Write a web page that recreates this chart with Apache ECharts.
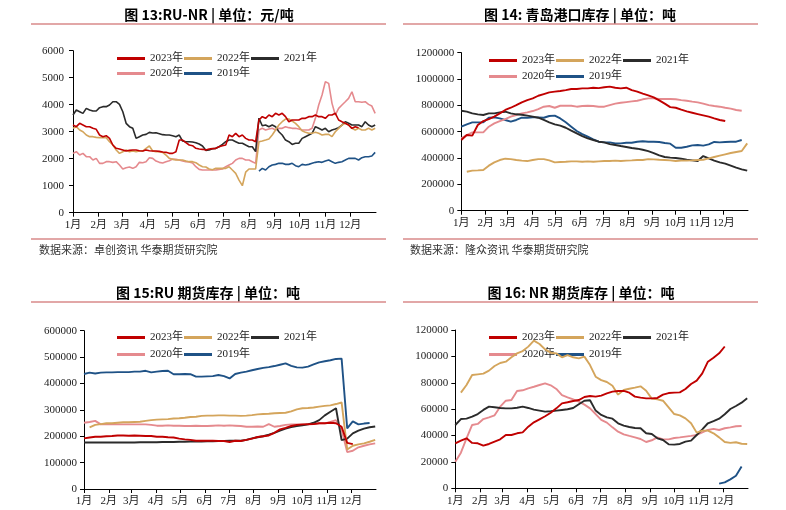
<!DOCTYPE html>
<html><head><meta charset="utf-8">
<script src="https://cdn.jsdelivr.net/npm/echarts@6/dist/echarts.min.js"></script>
<style>html,body{margin:0;padding:0;background:#fff}#c{width:786px;height:510px}</style>
</head><body><div id="c"></div>
<script>
// ---------- labels ----------
const years = ['2023年', '2022年', '2021年', '2020年', '2019年'];
const colors = ['#c00000', '#d4a55c', '#2b2b2b', '#e58a8e', '#1f5286'];
const monthLabels = ['1月','2月','3月','4月','5月','6月','7月','8月','9月','10月','11月','12月'];
const titles = ['图 13:RU-NR | 单位：元/吨', '图 14: 青岛港口库存 | 单位：吨', '图 15:RU 期货库存 | 单位：吨', '图 16: NR 期货库存 | 单位：吨'];
const sources = ['数据来源：卓创资讯 华泰期货研究院', '数据来源：隆众资讯 华泰期货研究院'];

// ---------- Panel 1: RU-NR spread (元/吨), one point every 4 days ----------
const ruNrStepDays = 4;
const ruNr2023 = [
 3248,3186,3310,3248,3186,3186,3125,3088,2877,2816,
 2853,2754,2507,2384,2359,2322,2285,2310,2322,2322,
 2297,2285,2322,2297,2285,2285,2272,2248,2235,2198,
 2198,2260,2692,2692,2594,2507,2482,2384,2360,2347,
 2322,2360,2372,2384,2445,2482,2507,2877,2816,2940,
 2816,2877,2754,2692,2692,2630,3433,3557,3495,3619,
 3557,3680,3619,3680,3557,3370,3433,3433,3433,3495,
 3495,3557,3557,3619,3557,3557,3495,3619,3619,3680,
 3433,3370,3310,3248,3125,3186,3150,null,null,null,
 null,null];
const ruNr2022 = [
 3125,3186,3063,3000,2877,2816,2816,2790,2779,2779,
 2779,2630,2507,2322,2198,2260,2322,2260,2285,2260,
 2285,2285,2384,2470,2285,2260,2260,2235,2137,2013,
 1976,1951,1951,1951,1914,1890,1890,1852,1766,1704,
 1692,1618,1593,1642,1642,1642,1642,1704,1580,1457,
 1210,1000,1500,1618,1618,1618,2630,2655,2692,2730,
 2877,3063,3248,3370,3470,3470,3396,3310,3186,3038,
 2976,2940,2940,2976,2940,2877,2900,2900,2816,3000,
 3125,3248,3310,3248,3125,3063,3125,3063,3063,3125,
 3063,3125];
const ruNr2021 = [
 3619,3804,3742,3680,3865,3804,3767,3767,3890,3927,
 3927,3990,4110,4110,4010,3740,3310,3186,3125,2754,
 2816,2877,2900,2976,2950,2960,2925,2890,2877,2877,
 2850,2816,2877,2655,2630,2630,2618,2594,2545,2470,
 2310,2322,2370,2384,2445,2530,2630,2690,2690,2630,
 2570,2570,2507,2445,2445,2260,3500,3220,3250,3186,
 3250,3186,3000,2877,2690,2630,2530,2570,2570,2754,
 2816,2877,2940,3186,3125,3063,3125,3000,3063,3100,
 3150,3248,3370,3310,3248,3248,3248,3186,3370,3248,
 3186,3248];
const ruNr2020 = [
 2198,2260,2137,2198,2075,2075,1951,2013,1828,1828,
 1890,1890,1865,1890,1766,1618,1667,1692,1642,1704,
 1865,1852,1890,2038,2013,1914,1865,1840,1890,1927,
 1988,1976,1951,1914,1890,1877,1840,1704,1605,1580,
 1580,1580,1580,1580,1605,1618,1704,1766,1828,1951,
 2013,2013,1951,1951,1890,1828,3063,3125,3063,3100,
 3125,3063,3125,3125,3186,3150,3125,3125,3100,3063,
 3063,3063,3125,3495,3990,4360,4853,4790,4050,3619,
 3865,3990,4110,4235,4480,4110,4110,4088,4110,4013,
 3950,3680];
const ruNr2019 = [
 null,null,null,null,null,null,null,null,null,null,
 null,null,null,null,null,null,null,null,null,null,
 null,null,null,null,null,null,null,null,null,null,
 null,null,null,null,null,null,null,null,null,null,
 null,null,null,null,null,null,null,null,null,null,
 null,null,null,null,null,null,1544,1642,1580,1704,
 1766,1790,1828,1828,1790,1790,1828,1741,1704,1790,
 1766,1790,1828,1865,1890,1865,1914,1951,1890,1828,
 1865,1890,1951,2013,2013,2013,1951,2038,2075,2075,
 2100,2235];

// ---------- Panel 2: Qingdao port inventory (吨), weekly ----------
const weekStepDays = 7;
const port2023 = [
 537000,575000,570000,651000,681000,696000,714000,739000,765000,782000,
 802000,823000,840000,853000,873000,886000,899000,904000,909000,916000,
 924000,924000,929000,929000,934000,931000,938000,942000,934000,929000,
 934000,916000,904000,889000,876000,861000,838000,813000,787000,782000,
 767000,754000,744000,734000,724000,714000,701000,689000,681000,null,
 null,null,null];
const port2022 = [
 null,296000,304000,306000,309000,342000,367000,385000,395000,392000,
 385000,380000,377000,385000,392000,392000,382000,367000,370000,372000,
 375000,375000,372000,375000,372000,375000,377000,377000,380000,377000,
 380000,382000,385000,385000,392000,390000,387000,385000,382000,377000,
 380000,380000,382000,385000,387000,397000,408000,418000,428000,438000,
 446000,453000,511000];
const port2021 = [
 759000,752000,739000,732000,727000,739000,739000,747000,752000,739000,
 732000,729000,722000,714000,706000,689000,671000,656000,646000,630000,
 608000,587000,567000,549000,537000,524000,519000,506000,499000,491000,
 484000,476000,471000,463000,453000,438000,420000,408000,403000,400000,
 395000,387000,382000,377000,415000,397000,380000,367000,357000,342000,
 327000,314000,304000];
const port2020 = [
 549000,575000,595000,595000,595000,638000,663000,681000,696000,714000,
 727000,739000,747000,757000,772000,790000,795000,782000,797000,797000,
 797000,790000,795000,797000,795000,790000,790000,802000,813000,820000,
 825000,830000,835000,846000,853000,853000,848000,848000,848000,846000,
 840000,835000,828000,823000,813000,802000,795000,790000,782000,775000,
 765000,759000,null];
const port2019 = [
 638000,656000,671000,671000,671000,706000,709000,701000,689000,676000,
 689000,706000,706000,709000,709000,706000,719000,722000,701000,671000,
 638000,605000,582000,562000,542000,524000,519000,519000,511000,511000,
 516000,516000,524000,527000,524000,524000,522000,514000,509000,478000,
 478000,486000,496000,499000,494000,504000,522000,519000,522000,524000,
 524000,537000,null];

// ---------- Panel 3: RU futures inventory (吨), weekly ----------
const ru2023 = [
 192000,195000,198000,198000,200000,201000,203000,203000,202000,203000,
 202000,201000,201000,198000,198000,196000,195000,191000,188000,186000,
 183000,183000,183000,183000,182000,182000,178000,183000,182000,186000,
 191000,197000,200000,203000,213000,226000,232000,239000,243000,245000,
 246000,246000,249000,249000,251000,249000,236000,175000,170000,null,
 null,null,null];
const ru2022 = [
 null,234000,243000,246000,249000,249000,251000,253000,253000,254000,
 255000,258000,261000,263000,264000,265000,267000,268000,270000,273000,
 274000,277000,278000,278000,279000,279000,278000,278000,277000,278000,
 280000,283000,284000,285000,287000,288000,289000,294000,302000,306000,
 307000,309000,312000,315000,317000,322000,328000,150000,164000,169000,
 173000,179000,186000];
const ru2021 = [
 176000,176000,176000,176000,176000,176000,176000,176000,176000,176000,
 177000,177000,177000,177000,178000,178000,178000,179000,179000,180000,
 180000,180000,181000,181000,182000,182000,183000,183000,183000,186000,
 192000,196000,200000,206000,213000,221000,229000,235000,239000,241000,
 245000,251000,261000,279000,293000,306000,185000,191000,211000,221000,
 229000,234000,237000];
const ru2020 = [
 251000,254000,258000,245000,245000,245000,245000,245000,245000,245000,
 245000,245000,243000,240000,240000,241000,240000,240000,239000,239000,
 240000,239000,239000,240000,241000,240000,241000,240000,239000,236000,
 236000,237000,236000,246000,236000,239000,243000,245000,245000,244000,
 244000,246000,249000,249000,254000,261000,225000,140000,145000,158000,
 164000,169000,173000];
const ru2019 = [
 436000,441000,438000,441000,442000,442000,443000,443000,443000,445000,
 445000,448000,442000,445000,447000,448000,435000,435000,436000,435000,
 426000,426000,427000,428000,432000,428000,419000,436000,441000,445000,
 450000,455000,459000,462000,466000,471000,476000,467000,461000,460000,
 464000,472000,480000,484000,488000,493000,494000,230000,256000,245000,
 248000,250000,null];

// ---------- Panel 4: NR futures inventory (吨), weekly ----------
const nr2023 = [
 34100,36100,37900,34400,34100,32300,33600,35400,37100,40400,
 40400,41700,42400,46700,50000,52300,54600,57300,60600,64400,
 65200,66200,66900,69200,70000,69500,70300,72000,73300,73800,
 73800,72500,69500,68700,68200,68200,68500,71000,72200,72500,
 72700,75300,79100,81600,87100,96000,99000,102300,107500,null,
 null,null,null];
const nr2022 = [
 null,72500,78300,85900,86400,86900,89200,92700,95000,96000,
 99300,102300,104000,107400,111900,109400,105300,102800,102300,99300,
 101000,99300,98500,99800,93400,84600,82000,80600,77800,71000,
 74500,75500,76300,77300,74000,68000,67400,66400,61400,56300,
 55300,53000,49300,42200,43700,43700,41700,38600,35100,34400,
 34900,33800,33600];
const nr2021 = [
 48000,52500,52800,54300,56300,59400,61900,61400,60900,60600,
 60600,61100,61900,60900,59600,58900,58100,58400,58900,59400,
 59900,60900,63700,66400,66700,58900,55600,53800,52800,49300,
 47500,46500,45700,45500,41700,41200,37900,36600,33300,33100,
 33600,35400,36100,40400,44700,49300,51000,52800,56100,60100,
 62400,64900,68200];
const nr2020 = [
 20200,27000,37900,48000,48800,52500,53800,55300,61900,66400,
 66900,73800,74300,75800,77000,78300,79600,78100,75300,70700,
 69000,67400,65700,63400,60600,56300,51800,49800,46200,42900,
 40900,39700,38600,37400,35100,36400,38600,37100,37100,38100,
 38600,39200,39700,40400,42400,44200,45000,44200,45500,46200,
 47000,47200,null];
const nr2019 = [
 null,null,null,null,null,null,null,null,null,null,
 null,null,null,null,null,null,null,null,null,null,
 null,null,null,null,null,null,null,null,null,null,
 null,null,null,null,null,null,null,null,null,null,
 null,null,null,null,null,null,null,3500,4500,6800,
 9500,16500,null];

// ---------- build ----------
const DAY = 86400000;
const base = new Date(2023, 0, 1).getTime();
const axisEnd = new Date(2024, 0, 1).getTime();
const SERIF = '"Liberation Serif","Noto Sans CJK SC"';
const SANS = '"Noto Sans CJK SC"';

const panels = [
  { grid: {left: 73, top: 50.7, width: 303, height: 162}, yMax: 6000, yInt: 1000, step: ruNrStepDays,
    data: [ruNr2023, ruNr2022, ruNr2021, ruNr2020, ruNr2019], lw: 1.6, yMargin: 9, legLeft: 117, legY: [57, 72] },
  { grid: {left: 461.3, top: 52.7, width: 286.7, height: 158}, yMax: 1200000, yInt: 200000, step: weekStepDays,
    data: [port2023, port2022, port2021, port2020, port2019], lw: 1.9, yMargin: 7, legLeft: 489, legY: [59, 75] },
  { grid: {left: 84, top: 330.7, width: 292, height: 158.3}, yMax: 600000, yInt: 100000, step: weekStepDays,
    data: [ru2023, ru2022, ru2021, ru2020, ru2019], lw: 1.9, yMargin: 7, legLeft: 117, legY: [336, 353] },
  { grid: {left: 455.3, top: 330, width: 292.7, height: 158.3}, yMax: 120000, yInt: 20000, step: weekStepDays,
    data: [nr2023, nr2022, nr2021, nr2020, nr2019], lw: 1.9, yMargin: 7, legLeft: 489, legY: [336, 353] }
];

function toPoints(values, step) {
  return values.map((v, i) => [base + i * step * DAY, v == null ? '-' : v]);
}

const option = {
  animation: false,
  backgroundColor: '#fff',
  grid: [], xAxis: [], yAxis: [], series: [], legend: [], graphic: []
};

panels.forEach((p, pi) => {
  option.grid.push(p.grid);
  option.xAxis.push({
    type: 'time', gridIndex: pi, min: base, max: axisEnd, splitNumber: 12,
    axisLine: {show: true, lineStyle: {color: '#000', width: 1}},
    axisTick: {show: true, length: 4, lineStyle: {color: '#000'}},
    splitLine: {show: false},
    axisLabel: {
      fontFamily: SERIF, fontSize: 11, color: '#222', margin: 7, hideOverlap: false,
      formatter: function (val) { const d = new Date(val); return d.getFullYear() === 2023 ? monthLabels[d.getMonth()] : ''; }
    }
  });
  option.yAxis.push({
    type: 'value', gridIndex: pi, min: 0, max: p.yMax, interval: p.yInt,
    axisLine: {show: true, lineStyle: {color: '#000', width: 1}},
    axisTick: {show: true, length: 4, lineStyle: {color: '#000'}},
    splitLine: {show: false},
    axisLabel: {fontFamily: SERIF, fontSize: 11, color: '#222', margin: p.yMargin,
      formatter: function (v) { return String(v); }}
  });
  p.data.forEach((vals, j) => {
    option.series.push({
      type: 'line', name: years[j], xAxisIndex: pi, yAxisIndex: pi,
      data: toPoints(vals, p.step), symbol: 'none', showSymbol: false,
      lineStyle: {color: colors[j], width: p.lw}, itemStyle: {color: colors[j]},
      z: 10 - j, silent: true
    });
  });
  [[0, 1, 2], [3, 4]].forEach((rowIdx, r) => {
    option.legend.push({
      data: rowIdx.map(i => years[i]), left: p.legLeft, top: p.legY[r] - 4,
      orient: 'horizontal', icon: 'rect', itemWidth: 28, itemHeight: 3, itemGap: 1, padding: 0,
      selectedMode: false,
      textStyle: {fontFamily: SERIF, fontSize: 11, color: '#222'}
    });
  });
});

// titles, rules, sources
const titlePos = [[209, 15], [580, 15], [208, 293], [581, 293]];
const rulePos = [[31, 386, 24], [403, 758, 24], [31, 386, 302], [403, 758, 302]];
titlePos.forEach((t, i) => {
  option.graphic.push({type: 'text', x: t[0], y: t[1], style: {text: titles[i], font: 'bold 14px ' + SANS, fill: '#000', textAlign: 'center', textVerticalAlign: 'middle'}});
});
rulePos.forEach(r => {
  option.graphic.push({type: 'line', shape: {x1: r[0], y1: r[2], x2: r[1], y2: r[2]}, style: {stroke: '#d98a8a', lineWidth: 1.5}});
});
[[31, 386, 239], [403, 758, 239]].forEach(r => {
  option.graphic.push({type: 'line', shape: {x1: r[0], y1: r[2], x2: r[1], y2: r[2]}, style: {stroke: '#d98a8a', lineWidth: 1.5}});
});
option.graphic.push({type: 'text', x: 39, y: 250, style: {text: sources[0], font: '11px ' + SANS, fill: '#333', textAlign: 'left', textVerticalAlign: 'middle'}});
option.graphic.push({type: 'text', x: 410, y: 250, style: {text: sources[1], font: '11px ' + SANS, fill: '#333', textAlign: 'left', textVerticalAlign: 'middle'}});

const chart = echarts.init(document.getElementById('c'), null, {renderer: 'canvas'});
chart.setOption(option);
</script>
</body></html>
